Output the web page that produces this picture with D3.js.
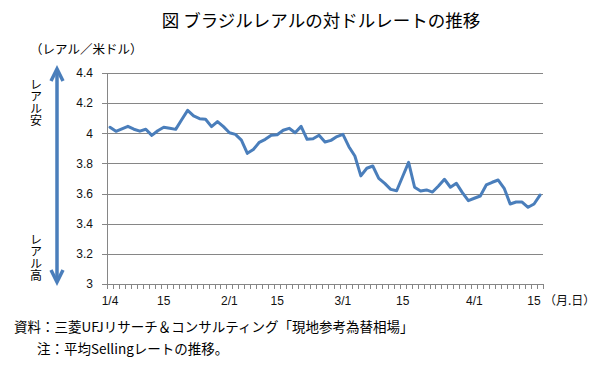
<!DOCTYPE html>
<html><head><meta charset="utf-8">
<script src="https://cdn.jsdelivr.net/npm/d3@7"></script>
<style>
html,body{margin:0;padding:0;background:#fff;}
svg{display:block;}
text{font-family:"Noto Sans CJK JP","Noto Sans",sans-serif;}
</style></head>
<body>
<svg id="c" width="613" height="365"></svg>
<script>
const title = "図 ブラジルレアルの対ドルレートの推移";
const unitLabel = "（レアル／米ドル）";
const xUnit = "（月.日）";
const sourceNote = "資料：三菱UFJリサーチ＆コンサルティング「現地参考為替相場」";
const note = "注：平均Sellingレートの推移。";
const upLabel = "レアル安";
const downLabel = "レアル高";

const dates = [
 "1/4","1/5","1/6","1/7","1/8","1/11","1/12","1/13","1/14","1/15",
 "1/18","1/19","1/20","1/21","1/22","1/25","1/26","1/27","1/28","1/29",
 "2/1","2/2","2/3","2/4","2/5","2/10","2/11","2/12","2/15","2/16",
 "2/17","2/18","2/19","2/22","2/23","2/24","2/25","2/26","2/29",
 "3/1","3/2","3/3","3/4","3/7","3/8","3/9","3/10","3/11","3/14","3/15",
 "3/16","3/17","3/18","3/21","3/22","3/23","3/24","3/28","3/29","3/30","3/31",
 "4/1","4/4","4/5","4/6","4/7","4/8","4/11","4/12","4/13","4/14","4/15","4/18"
];
const rates = [
 4.040,4.013,4.030,4.046,4.027,4.014,4.027,3.986,4.017,4.040,
 4.033,4.026,4.090,4.152,4.115,4.097,4.093,4.044,4.078,4.044,
 4.004,3.993,3.955,3.867,3.892,3.940,3.960,3.987,3.990,4.020,
 4.033,4.004,4.046,3.960,3.964,3.987,3.942,3.953,3.978,
 3.993,3.911,3.849,3.717,3.768,3.783,3.701,3.668,3.628,3.619,3.713,
 3.807,3.642,3.617,3.624,3.610,3.650,3.695,3.642,3.668,3.606,3.553,
 3.569,3.584,3.657,3.675,3.690,3.635,3.531,3.544,3.544,3.509,3.531,3.590
];
const xLabels = {"1/4":"1/4","1/15":"15","2/1":"2/1","2/15":"15","3/1":"3/1","3/15":"15","4/1":"4/1","4/15":"15"};
const yTicks = [3,3.2,3.4,3.6,3.8,4,4.2,4.4];

const svg = d3.select("#c");
const L = 107, R = 543, T = 73, B = 284;
const axisColor = "#868686";
const lineColor = "#4a7ebb";

const idx = d3.range(dates.length);
const x = d3.scaleBand().domain(idx).range([L, R]).padding(0);
const xEdge = d3.scaleLinear().domain([0, dates.length]).range([L, R]);
const y = d3.scaleLinear().domain([3, 4.4]).range([B, T]);

// gridlines
const grid = svg.append("g").attr("transform", `translate(${L},0)`)
  .call(d3.axisLeft(y).tickValues(yTicks).tickSize(-(R - L)).tickFormat(""));
grid.select(".domain").remove();
grid.selectAll("line").attr("stroke", axisColor).attr("stroke-width", 1).attr("shape-rendering","crispEdges");

// y axis with labels
const ya = svg.append("g").attr("transform", `translate(${L},0)`)
  .call(d3.axisLeft(y).tickValues(yTicks).tickSize(5).tickPadding(9)
    .tickFormat(d => d3.format("")(+d.toFixed(1))));
ya.select(".domain").attr("stroke", axisColor).attr("shape-rendering","crispEdges");
ya.selectAll("line").attr("stroke", axisColor).attr("shape-rendering","crispEdges");
ya.selectAll("text").attr("fill", "#111").style("font-family", "'Liberation Sans',Arial,sans-serif").style("font-size", "12px");

// x axis minor ticks at category boundaries
const xt = svg.append("g").attr("transform", `translate(0,${B})`)
  .call(d3.axisBottom(xEdge).tickValues(d3.range(dates.length + 1)).tickSize(5).tickFormat(""));
xt.select(".domain").attr("stroke", axisColor).attr("shape-rendering","crispEdges");
xt.selectAll("line").attr("stroke", axisColor).attr("shape-rendering","crispEdges");

// x axis labels
const labelIdx = idx.filter(i => xLabels[dates[i]] !== undefined);
const xl = svg.append("g").attr("transform", `translate(0,${B})`)
  .call(d3.axisBottom(x).tickValues(labelIdx).tickSize(0).tickPadding(12)
    .tickFormat(i => xLabels[dates[i]]));
xl.select(".domain").remove();
xl.selectAll("text").attr("fill", "#111").style("font-family", "'Liberation Sans',Arial,sans-serif").style("font-size", "12px");

svg.append("text").attr("x", R + 1).attr("y", 305).attr("font-size", 12).attr("fill", "#111").text(xUnit);

// data line
const line = d3.line().x((d, i) => x(i) + x.bandwidth() / 2).y(d => y(d));
svg.append("path").datum(rates).attr("d", line)
  .attr("fill", "none").attr("stroke", lineColor).attr("stroke-width", 3)
  .attr("stroke-linejoin", "round").attr("stroke-linecap", "round");

// title
svg.append("text").attr("x", 321).attr("y", 27).attr("text-anchor", "middle")
  .attr("font-size", 17.5).attr("fill", "#000").text(title);
svg.append("text").attr("x", 30).attr("y", 54).attr("font-size", 12.5).attr("fill", "#000").text(unitLabel);

// double arrow
const ax = 57, aTop = 69, aBot = 282;
svg.append("line").attr("x1", ax).attr("x2", ax).attr("y1", aTop + 2).attr("y2", aBot - 2)
  .attr("stroke", lineColor).attr("stroke-width", 3.5);
svg.append("path").attr("d", `M${ax-6},${aTop+12} L${ax},${aTop} L${ax+6},${aTop+12}`)
  .attr("fill", "none").attr("stroke", lineColor).attr("stroke-width", 3.5).attr("stroke-linejoin","miter");
svg.append("path").attr("d", `M${ax-6},${aBot-12} L${ax},${aBot} L${ax+6},${aBot-12}`)
  .attr("fill", "none").attr("stroke", lineColor).attr("stroke-width", 3.5).attr("stroke-linejoin","miter");

// vertical labels
svg.append("text").attr("x", 36).attr("y", 78)
  .style("writing-mode", "vertical-rl").style("letter-spacing", "0px")
  .attr("font-size", 12).attr("fill", "#000").text(upLabel);
svg.append("text").attr("x", 36).attr("y", 233)
  .style("writing-mode", "vertical-rl").style("letter-spacing", "0.3px")
  .attr("font-size", 12).attr("fill", "#000").text(downLabel);

// footer
svg.append("text").attr("x", 14).attr("y", 332).attr("font-size", 13.5).attr("fill", "#000").text(sourceNote);
svg.append("text").attr("x", 37).attr("y", 354).attr("font-size", 13.5).attr("fill", "#000").text(note);
</script>
</body></html>
